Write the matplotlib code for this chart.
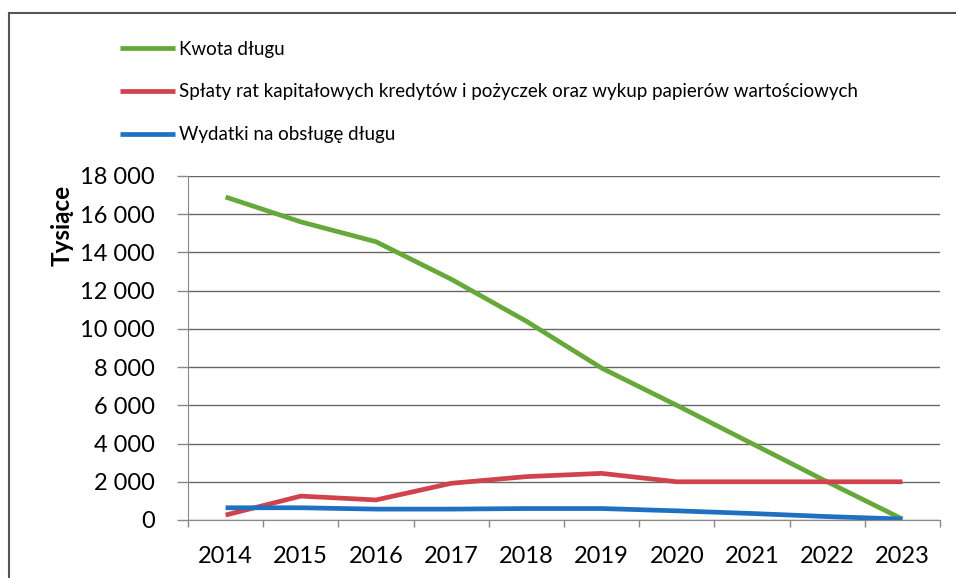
import matplotlib
matplotlib.use("Agg")
import matplotlib.pyplot as plt
from matplotlib.lines import Line2D
from matplotlib.ticker import FuncFormatter, FixedLocator

plt.rcParams['font.family'] = ['Lato', 'DejaVu Sans']

years = ["2014", "2015", "2016", "2017", "2018", "2019", "2020", "2021", "2022", "2023"]
kwota = [16900, 15600, 14560, 12600, 10400, 7950, 6000, 4000, 2000, 50]
splaty = [260, 1250, 1050, 1920, 2270, 2440, 2000, 2000, 2000, 2000]
wydatki = [640, 640, 570, 570, 600, 600, 480, 340, 180, 50]

labels = ["Kwota długu",
          "Spłaty rat kapitałowych kredytów i pożyczek oraz wykup papierów wartościowych",
          "Wydatki na obsługę długu"]
colors = ["#66a83a", "#d0434c", "#1f70c1"]

W, H = 956, 578
fig = plt.figure(figsize=(W / 100, H / 100), dpi=100)
ax = fig.add_axes([188 / W, 1 - 520 / H, (940 - 188) / W, (520 - 176) / H])

x = list(range(len(years)))
handles = []
for series, lab, c in zip([kwota, splaty, wydatki], labels, colors):
    h, = ax.plot(x, series, color=c, lw=3.4, solid_capstyle='butt', label=lab)
    handles.append(h)

ax.set_xlim(-0.5, len(years) - 0.5)
ax.set_ylim(0, 18000)
ax.set_yticks(range(0, 18001, 2000))
ax.yaxis.set_major_formatter(FuncFormatter(lambda v, p: f"{int(v):,}".replace(",", " ")))
ax.set_xticks(x)
ax.set_xticklabels(years)
ax.xaxis.set_minor_locator(FixedLocator([i - 0.5 for i in range(len(years) + 1)]))
ax.tick_params(axis='x', which='major', length=0, pad=19, labelsize=17)
ax.tick_params(axis='x', which='minor', length=5, color='#888888', width=1)
ax.tick_params(axis='y', length=8, color='#888888', width=1, labelsize=17, pad=16)

ax.grid(axis='y', color='#666666', lw=1)
ax.set_axisbelow(True)
for s in ['top', 'right']:
    ax.spines[s].set_visible(False)
ax.spines['left'].set_color('#888888')
ax.spines['bottom'].set_color('#888888')

fig.text(62 / W, 1 - 225 / H, "Tysiące", rotation=90, ha='center', va='center',
         fontsize=17.5, fontweight='bold')

fig.legend(handles=handles, labels=labels, loc='upper left',
           bbox_to_anchor=(112 / W, 1 - 33 / H), frameon=False,
           fontsize=13.5, handlelength=2.95, handletextpad=0.2, labelspacing=1.38,
           borderaxespad=0)

# outer frame
fig.add_artist(Line2D([9 / W, 9 / W], [0, 1 - 13 / H], transform=fig.transFigure,
                      color='#555555', lw=1.5))
fig.add_artist(Line2D([9 / W, 1], [1 - 13 / H, 1 - 13 / H], transform=fig.transFigure,
                      color='#555555', lw=1.5))

fig.savefig("out.png", dpi=100)
